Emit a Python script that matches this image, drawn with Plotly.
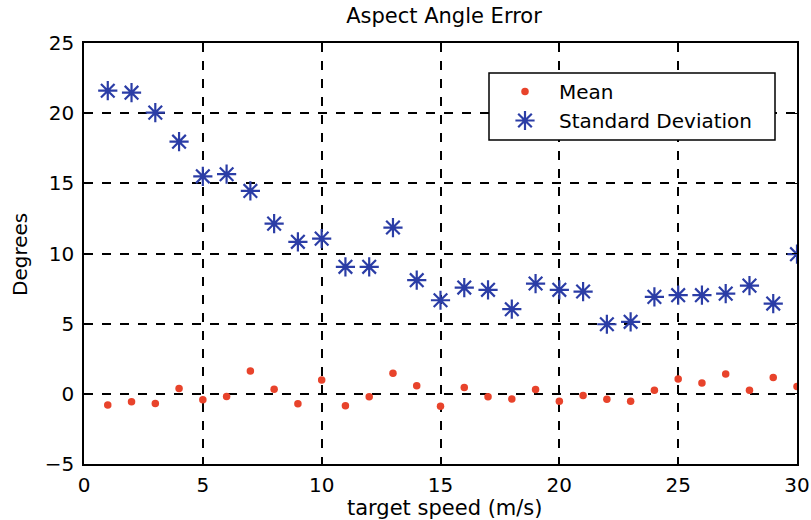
import plotly.graph_objects as go

speed = list(range(1, 31))
mean_err = [-0.8, -0.57, -0.69, 0.38, -0.43, -0.19, 1.62, 0.33, -0.71, 0.98,
            -0.85, -0.21, 1.47, 0.57, -0.88, 0.45, -0.21, -0.36, 0.31, -0.52,
            -0.12, -0.38, -0.52, 0.26, 1.05, 0.78, 1.42, 0.26, 1.16, 0.52]
std_err = [21.6, 21.46, 20.04, 17.97, 15.5, 15.65, 14.46, 12.13, 10.83, 11.06,
           9.05, 9.05, 11.85, 8.1, 6.67, 7.57, 7.41, 6.03, 7.86, 7.41,
           7.29, 4.96, 5.13, 6.91, 7.03, 7.03, 7.14, 7.71, 6.43, 9.95]
x_ticks = [0, 5, 10, 15, 20, 25, 30]
y_ticks = [-5, 0, 5, 10, 15, 20, 25]

FONT = "DejaVu Sans"
W, H = 811, 520
L, R, T, B = 84, 797, 43, 464
PW, PH = R - L, B - T

fig = go.Figure()
fig.add_trace(go.Scatter(
    x=speed, y=mean_err, mode="markers", name="Mean",
    marker=dict(symbol="circle", size=7.5, color="#e8432b"),
))
fig.add_trace(go.Scatter(
    x=speed, y=std_err, mode="markers", name="Standard Deviation",
    marker=dict(symbol="asterisk-open", size=16, color="#2b3da6",
                line=dict(color="#2b3da6", width=2.2)),
))

axis_common = dict(
    showline=True, linecolor="black", linewidth=1.5, mirror="ticks",
    ticks="inside", ticklen=5, tickcolor="black", tickwidth=1.2,
    showgrid=True, gridcolor="black", griddash="dash", gridwidth=1.6,
    zeroline=False, automargin=False,
    tickfont=dict(family=FONT, size=20, color="black"),
)

# legend frame (style only)
lx0, lx1, ly0, ly1 = 489, 775, 73, 140
fig.add_shape(type="rect", xref="paper", yref="paper",
              x0=(lx0 - L) / PW, x1=(lx1 - L) / PW,
              y0=1 - (ly1 - T) / PH, y1=1 - (ly0 - T) / PH,
              line=dict(color="black", width=1.5), fillcolor="white", layer="above")

# axis titles as positioned annotations
fig.add_annotation(text="target speed (m/s)", xref="paper", yref="paper",
                   x=(445 - L) / PW, y=-(508 - B) / PH, xanchor="center", yanchor="middle",
                   showarrow=False, font=dict(family=FONT, size=21, color="black"))
fig.add_annotation(text="Degrees", xref="paper", yref="paper", textangle=-90,
                   x=-(L - 20) / PW, y=1 - (255 - T) / PH, xanchor="center", yanchor="middle",
                   showarrow=False, font=dict(family=FONT, size=20, color="black"))

fig.update_layout(
    width=W, height=H,
    margin=dict(l=L, r=W - R, t=T, b=H - B),
    paper_bgcolor="white", plot_bgcolor="white",
    title=dict(text="Aspect Angle Error", x=444 / W, xanchor="center",
               y=1 - 16 / H, yanchor="middle",
               font=dict(family=FONT, size=21, color="black")),
    xaxis=dict(range=[0, 30], tickvals=x_ticks, ticklabelstandoff=2, **axis_common),
    yaxis=dict(range=[-5, 25], tickvals=y_ticks, ticklabelstandoff=4, **axis_common),
    legend=dict(x=(lx0 + 2 - L) / PW, y=1 - (ly0 - 1 - T) / PH,
                xanchor="left", yanchor="top",
                bgcolor="rgba(0,0,0,0)", borderwidth=0,
                font=dict(family=FONT, size=20, color="black"),
                itemwidth=58),
    showlegend=True,
)

fig.write_html("out.html")
